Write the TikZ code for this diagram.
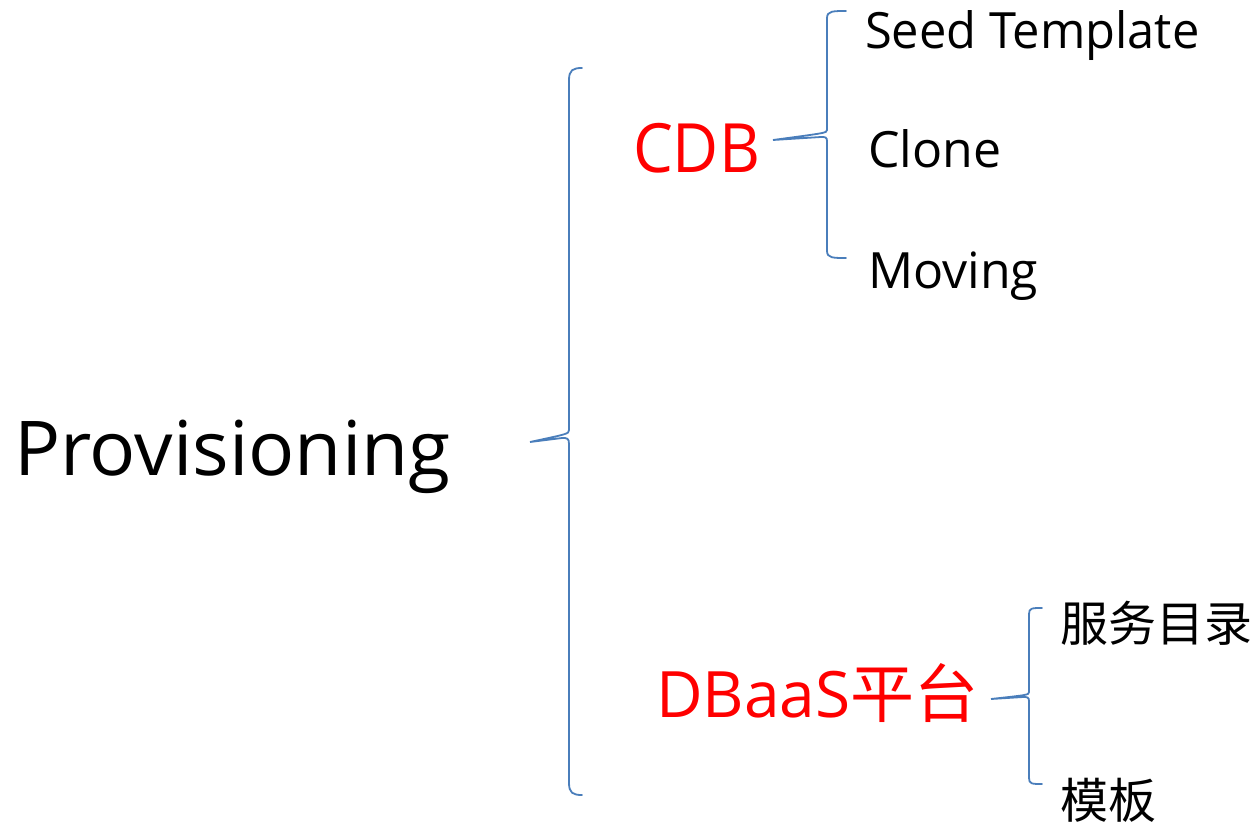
\documentclass[tikz,border=0pt]{standalone}
\usepackage{fontspec}
\setmainfont{Open Sans}
\newfontfamily\cjk{Noto Sans CJK SC}
\definecolor{bracecol}{HTML}{4A7EBB}
\definecolor{headred}{HTML}{FF0000}
\begin{document}
\begin{tikzpicture}[x=1pt,y=-1pt,
  lbl/.style={anchor=base west,inner sep=0pt,outer sep=0pt},
  brace/.style={draw=bracecol,line width=1.8pt,line join=miter,line cap=round},
  big/.style={lbl,font=\fontsize{75.6}{80}\selectfont},
  mid/.style={lbl,text=headred,font=\fontsize{68}{72}\selectfont},
  small/.style={lbl,font=\fontsize{50}{54}\selectfont},
  cjksmall/.style={lbl,font=\cjk\fontsize{48}{52}\selectfont}]
\useasboundingbox (0,0) rectangle (1259,827);

% labels
\node[big] (prov) at (14,475) {\scalebox{1.015}[1]{Provisioning}};
\node[mid] (cdb) at (633,172) {\scalebox{0.93}[1]{CDB}};
\node[mid,font=\fontsize{64}{68}\selectfont] (dbaas) at (656,717) {DBaaS{\cjk 平台}};
\node[small] (seed) at (865,48) {\scalebox{0.976}[1]{Seed Template}};
\node[small] (clone) at (868,167) {Clone};
\node[small] (moving) at (868,288) {Moving};
\node[cjksmall] (catalog) at (1060,641) {服务目录};
\node[cjksmall] (tmpl) at (1060,818) {模板};

% curly braces
\draw[brace] (582,68) .. controls (573,68) and (569,70) .. (569,80) -- (569,430)
  .. controls (569,434) and (567,434) .. (530,442) -- (562,438)
  .. controls (567,438) and (569,438) .. (569,444) -- (569,783)
  .. controls (569,793) and (573,795) .. (582,795);
\draw[brace] (846,11) .. controls (833,11) and (827,11) .. (827,18) -- (827,130)
  .. controls (827,133) and (825,133) .. (773,140) -- (821,137)
  .. controls (825,137) and (827,137) .. (827,141) -- (827,251)
  .. controls (827,258) and (833,258) .. (846,258);
\draw[brace] (1042,608) .. controls (1032,608) and (1029,608) .. (1029,614) -- (1029,692)
  .. controls (1029,695) and (1027,695) .. (991,699) -- (1023,697)
  .. controls (1027,697) and (1029,697) .. (1029,701) -- (1029,778)
  .. controls (1029,784) and (1032,784) .. (1042,784);
\end{tikzpicture}
\end{document}
